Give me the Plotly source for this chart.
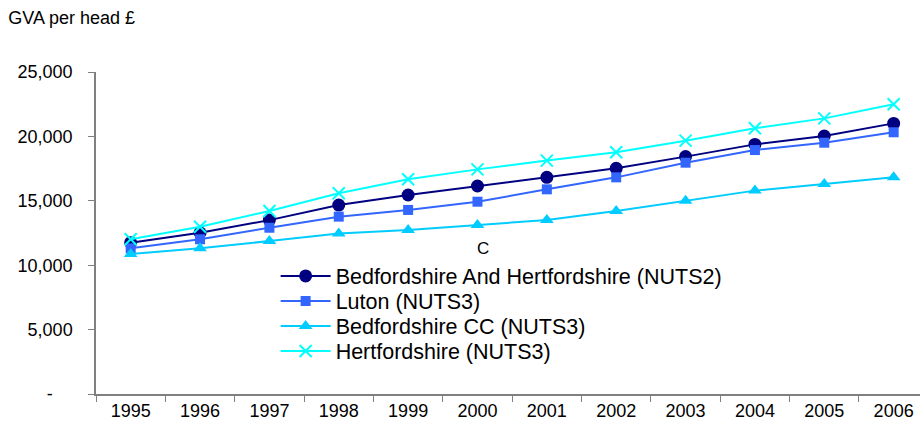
import plotly.graph_objects as go

years = ["1995", "1996", "1997", "1998", "1999", "2000", "2001", "2002", "2003", "2004", "2005", "2006"]
beds_herts = [11750, 12520, 13500, 14670, 15450, 16150, 16820, 17520, 18430, 19380, 20030, 21010]
luton = [11310, 12010, 12910, 13770, 14290, 14930, 15890, 16820, 17960, 18940, 19510, 20320]
beds_cc = [10870, 11310, 11880, 12470, 12730, 13120, 13510, 14210, 15010, 15790, 16300, 16820]
herts = [12010, 12990, 14210, 15580, 16670, 17440, 18120, 18770, 19670, 20630, 21400, 22490]

y_ticks = [0, 5000, 10000, 15000, 20000, 25000]
y_tick_text = ["-\u00a0\u00a0\u00a0\u00a0", "5,000", "10,000", "15,000", "20,000", "25,000"]

FONT = "Liberation Sans, Arial, sans-serif"

fig = go.Figure()
fig.add_trace(go.Scatter(x=years, y=beds_herts, name="Bedfordshire And Hertfordshire (NUTS2)",
                         mode="lines+markers", line=dict(color="#000080", width=2),
                         marker=dict(symbol="circle", size=13, color="#000080"),
                         legend="legend"))
fig.add_trace(go.Scatter(x=years, y=luton, name="Luton (NUTS3)",
                         mode="lines+markers", line=dict(color="#3366FF", width=2),
                         marker=dict(symbol="square", size=10, color="#3366FF"),
                         legend="legend2"))
fig.add_trace(go.Scatter(x=years, y=beds_cc, name="Bedfordshire CC (NUTS3)",
                         mode="lines+markers", line=dict(color="#00CCFF", width=2),
                         marker=dict(symbol="triangle-up", size=12, color="#00CCFF"),
                         legend="legend3"))
fig.add_trace(go.Scatter(x=years, y=herts, name="Hertfordshire (NUTS3)",
                         mode="lines+markers", line=dict(color="#00FFFF", width=2),
                         marker=dict(symbol="x-thin", size=12, color="#00FFFF",
                                     line=dict(color="#00FFFF", width=2)),
                         legend="legend4"))

fig.add_annotation(x=years.index("2000"), y=11300, text="C", showarrow=False, xshift=6,
                   font=dict(family=FONT, size=17, color="black"))

def leg(ypos):
    return dict(x=0.218, y=ypos, xanchor="left", yanchor="middle",
                bgcolor="rgba(0,0,0,0)", itemwidth=50,
                font=dict(family=FONT, size=21.5, color="black"))

fig.update_layout(
    width=920, height=430,
    margin=dict(l=96, r=0, t=72, b=36),
    paper_bgcolor="white", plot_bgcolor="white",
    font=dict(family=FONT, size=18, color="black"),
    showlegend=True,
    legend=leg(0.3665),
    legend2=leg(0.2888),
    legend3=leg(0.2112),
    legend4=leg(0.1335),
    title=dict(text="GVA per head £", x=0.009, xanchor="left", y=0.958, yanchor="middle",
               font=dict(family=FONT, size=18, color="black")),
)
fig.update_xaxes(type="category", range=[-0.5, 11.38], showgrid=False, automargin=False,
                 showline=True, linecolor="#808080", linewidth=1.5,
                 ticks="outside", tickson="boundaries", ticklen=6, tickcolor="#808080",
                 tickfont=dict(family=FONT, size=18, color="black"))
fig.update_yaxes(range=[0, 25000], showgrid=False, zeroline=False, automargin=False,
                 showline=True, linecolor="#808080", linewidth=1.5,
                 ticks="outside", ticklen=6, tickcolor="#808080",
                 tickvals=y_ticks, ticktext=y_tick_text, ticklabelstandoff=12,
                 tickfont=dict(family=FONT, size=18, color="black"))

fig.write_html("out.html", config={"displayModeBar": False},
               post_script="document.body.style.margin='0';")
